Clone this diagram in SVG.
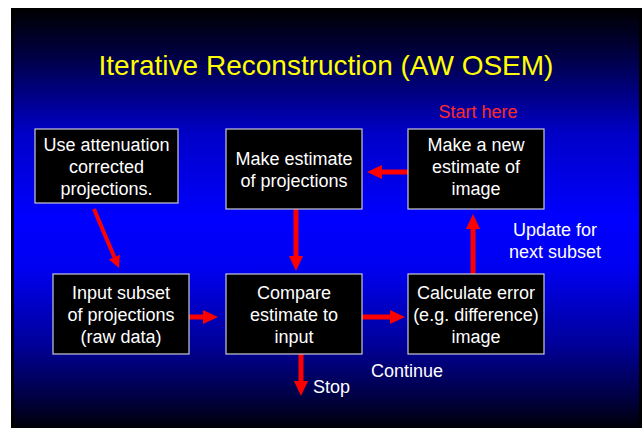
<svg xmlns="http://www.w3.org/2000/svg" width="642" height="428" viewBox="0 0 642 428">
<defs>
<linearGradient id="bg" x1="0" y1="0" x2="0" y2="1">
<stop offset="0" stop-color="#000000"/>
<stop offset="0.1" stop-color="#00003a"/>
<stop offset="0.3" stop-color="#0000c8"/>
<stop offset="0.5" stop-color="#0000ff"/>
<stop offset="0.62" stop-color="#0000f0"/>
<stop offset="0.8" stop-color="#00009a"/>
<stop offset="0.93" stop-color="#000040"/>
<stop offset="1" stop-color="#000008"/>
</linearGradient>
<marker id="ah" markerUnits="userSpaceOnUse" markerWidth="15" markerHeight="14" refX="0" refY="7" orient="auto" viewBox="0 0 15 14">
<path d="M0,0 L15,7 L0,14 z" fill="#ff0000"/>
</marker>
<marker id="ahs" markerUnits="userSpaceOnUse" markerWidth="12" markerHeight="12" refX="0" refY="6" orient="auto" viewBox="0 0 12 12">
<path d="M0,0 L12,6 L0,12 z" fill="#ff0000"/>
</marker>
</defs>
<style>
.box{fill:#000000;stroke:#c8c8d8;stroke-width:1.2}
.t{font-family:"Liberation Sans",Arial,sans-serif;font-size:18px;fill:#ffffff;text-anchor:middle}
.lbl{font-family:"Liberation Sans",Arial,sans-serif;font-size:18px;fill:#ffffff}
.arr{stroke:#ff0000;stroke-width:5;fill:none;marker-end:url(#ah)}
</style>
<rect x="0" y="0" width="642" height="428" fill="#ffffff"/>
<rect x="11" y="8" width="631" height="420" fill="#000000"/>
<rect x="14" y="8" width="625" height="420" fill="url(#bg)"/>
<text x="326" y="75" font-family="'Liberation Sans',Arial,sans-serif" font-size="28" fill="#ffff00" text-anchor="middle">Iterative Reconstruction (AW OSEM)</text>
<text x="478" y="118" font-family="'Liberation Sans',Arial,sans-serif" font-size="18" fill="#ff2a2a" text-anchor="middle">Start here</text>
<g id="connectors">
<line x1="94" y1="209" x2="114.3" y2="257" stroke="#ff0000" stroke-width="4" marker-end="url(#ahs)"/>
<line class="arr" x1="296" y1="209" x2="296" y2="256"/>
<line class="arr" x1="408" y1="172" x2="382" y2="172"/>
<line class="arr" x1="473" y1="274" x2="473" y2="229"/>
<line class="arr" x1="189" y1="317" x2="203" y2="317"/>
<line class="arr" x1="362" y1="317" x2="390" y2="317"/>
<line class="arr" x1="301" y1="354" x2="301" y2="381"/>
</g>
<g id="n_use">
<rect class="box" x="35" y="129" width="143" height="74"/>
<text class="t" x="106.5" y="151">Use attenuation</text>
<text class="t" x="106.5" y="173">corrected</text>
<text class="t" x="106.5" y="195">projections.</text>
</g>
<g id="n_makeest">
<rect class="box" x="226" y="129" width="136" height="80"/>
<text class="t" x="294" y="165">Make estimate</text>
<text class="t" x="294" y="187">of projections</text>
</g>
<g id="n_newest">
<rect class="box" x="408" y="129" width="136" height="80"/>
<text class="t" x="476" y="151">Make a new</text>
<text class="t" x="476" y="173">estimate of</text>
<text class="t" x="476" y="195">image</text>
</g>
<g id="n_input">
<rect class="box" x="53" y="274" width="136" height="80"/>
<text class="t" x="121" y="299">Input subset</text>
<text class="t" x="121" y="321">of projections</text>
<text class="t" x="121" y="343">(raw data)</text>
</g>
<g id="n_compare">
<rect class="box" x="226" y="274" width="136" height="80"/>
<text class="t" x="294" y="299">Compare</text>
<text class="t" x="294" y="321">estimate to</text>
<text class="t" x="294" y="343">input</text>
</g>
<g id="n_calc">
<rect class="box" x="408" y="274" width="136" height="80"/>
<text class="t" x="476" y="299">Calculate error</text>
<text class="t" x="476" y="321">(e.g. difference)</text>
<text class="t" x="476" y="343">image</text>
</g>
<text class="t" x="555" y="236">Update for</text>
<text class="t" x="555" y="258">next subset</text>
<text class="lbl" x="313" y="393">Stop</text>
<text class="lbl" x="371" y="377">Continue</text>
</svg>
